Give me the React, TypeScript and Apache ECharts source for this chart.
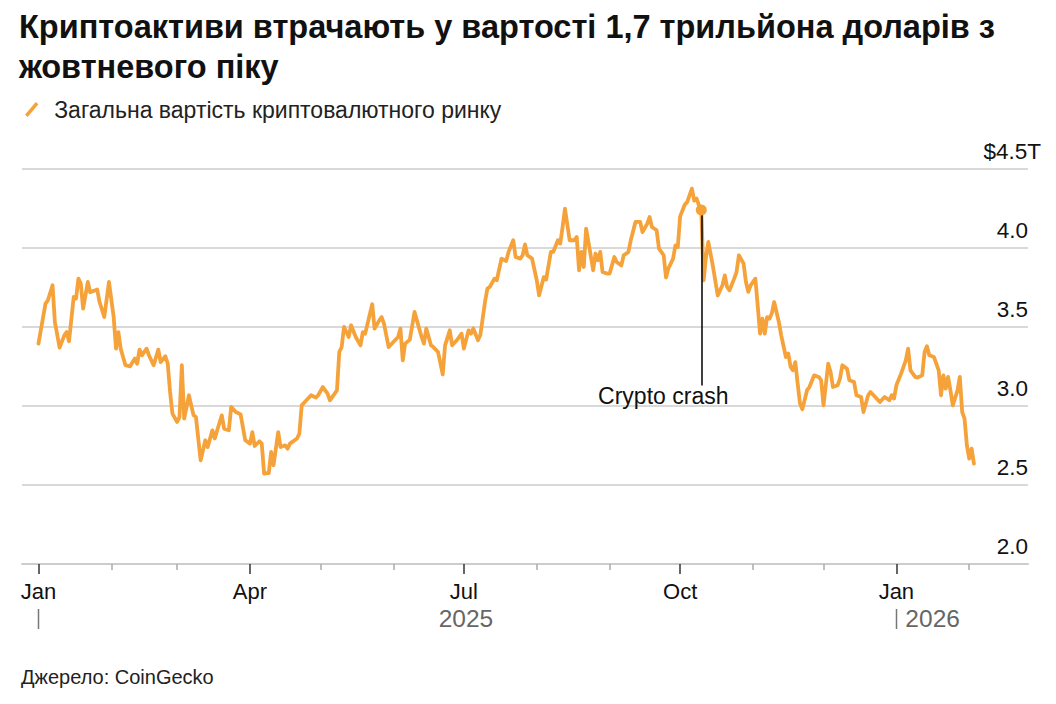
import React, { useEffect, useRef } from "react";
import * as echarts from "echarts";

// ---------- texts ----------
const titleText =
  "Криптоактиви втрачають у вартості 1,7 трильйона доларів з\nжовтневого піку";
const seriesName = "Загальна вартість криптовалютного ринку";
const sourceText = "Джерело: CoinGecko";
const annotationText = "Crypto crash";
const monthLabels = ["Jan", "Feb", "Mar", "Apr", "May", "Jun", "Jul", "Aug", "Sep", "Oct", "Nov", "Dec"];
const yearLabels = ["2025", "2026"];
const yTickValues = [2.0, 2.5, 3.0, 3.5, 4.0, 4.5];

// ---------- data: [days since 2025-01-01, total market cap in $ trillion] ----------
const capQ1_2025 = [
  [0, 3.395], [3, 3.648], [4, 3.669], [6, 3.764], [7, 3.53], [9, 3.37], [11, 3.447], [12, 3.468],
  [13, 3.41], [15, 3.69], [16, 3.68], [17, 3.806], [18, 3.775], [19, 3.616], [21, 3.785], [22, 3.72],
  [25, 3.737], [26, 3.658], [28, 3.563], [30, 3.785], [32, 3.563], [33, 3.363], [34, 3.468], [35, 3.363],
  [37, 3.258], [39, 3.251], [41, 3.3], [42, 3.268], [43, 3.357], [44, 3.321], [46, 3.363], [47, 3.321],
  [49, 3.258], [51, 3.357], [52, 3.278], [54, 3.315], [55, 3.268], [56, 3.089], [57, 2.952], [59, 2.899],
  [60, 2.93], [61, 3.258], [62, 2.92], [64, 3.068], [66, 2.941], [67, 2.93], [69, 2.656], [71, 2.783],
  [72, 2.74], [74, 2.846], [75, 2.794], [78, 2.941], [79, 2.857], [81, 2.846], [82, 2.994], [84, 2.962],
  [86, 2.947], [88, 2.783],
];
const capQ2_2025 = [
  [90, 2.762], [91, 2.835], [92, 2.747], [94, 2.777], [95, 2.762], [96, 2.572], [98, 2.576], [99, 2.709],
  [100, 2.625], [102, 2.835], [103, 2.74], [105, 2.751], [106, 2.73], [107, 2.762], [110, 2.794], [111, 2.825],
  [112, 3.004], [114, 3.036], [116, 3.068], [118, 3.053], [119, 3.068], [121, 3.12], [123, 3.078], [124, 3.036],
  [127, 3.099], [128, 3.342], [129, 3.373], [130, 3.5], [132, 3.437], [133, 3.511], [135, 3.437], [137, 3.384],
  [138, 3.468], [139, 3.458], [142, 3.644], [143, 3.49], [145, 3.542], [146, 3.563], [147, 3.521], [149, 3.373],
  [151, 3.405], [153, 3.437], [154, 3.49], [155, 3.289], [156, 3.395], [158, 3.42], [160, 3.595], [161, 3.542],
  [163, 3.437], [164, 3.395], [165, 3.49], [167, 3.384], [168, 3.373], [170, 3.342], [172, 3.2], [173, 3.384],
  [175, 3.479], [176, 3.384], [178, 3.416], [180, 3.458],
];
const capQ3_2025 = [
  [181, 3.363], [183, 3.479], [184, 3.458], [185, 3.49], [187, 3.416], [188, 3.45], [190, 3.66], [191, 3.743],
  [192, 3.753], [194, 3.806], [195, 3.796], [197, 3.933], [199, 3.918], [200, 3.975], [202, 4.049], [203, 3.943],
  [205, 3.933], [206, 3.954], [207, 4.023], [208, 3.954], [210, 3.933], [212, 3.796], [213, 3.7], [215, 3.816],
  [216, 3.8], [218, 3.975], [219, 3.975], [221, 4.049], [222, 4.028], [223, 4.133], [224, 4.249], [226, 4.049],
  [228, 4.049], [229, 4.07], [230, 3.859], [231, 3.975], [232, 3.88], [233, 4.123], [234, 4.038], [236, 3.859],
  [237, 3.965], [238, 3.922], [239, 3.975], [240, 3.848], [242, 3.838], [243, 3.838], [245, 3.943], [246, 3.911],
  [248, 3.89], [249, 3.954], [251, 3.975], [252, 4.049], [254, 4.165], [256, 4.165], [257, 4.1], [259, 4.154],
  [260, 4.196], [261, 4.133], [263, 4.112], [264, 3.996], [266, 3.954], [267, 3.813], [268, 3.87], [270, 3.933],
  [271, 4.017], [272, 4.006],
];
const capQ4_2025 = [
  [273, 4.2], [275, 4.275], [276, 4.29], [278, 4.376], [279, 4.3], [280, 4.313], [281, 4.27], [282, 4.24],
  [283, 3.796], [284, 3.943], [285, 4.038], [287, 3.88], [289, 3.7], [291, 3.764], [292, 3.827], [293, 3.753],
  [294, 3.732], [296, 3.806], [297, 3.848], [298, 3.954], [300, 3.901], [301, 3.785], [302, 3.722], [303, 3.764],
  [305, 3.806], [306, 3.637], [307, 3.458], [308, 3.553], [309, 3.458], [310, 3.563], [311, 3.553], [312, 3.585],
  [313, 3.658], [315, 3.532], [316, 3.447], [318, 3.31], [319, 3.332], [320, 3.247], [321, 3.226], [322, 3.278],
  [323, 3.142], [324, 3.015], [325, 2.98], [327, 3.1], [328, 3.12], [330, 3.194], [332, 3.184], [333, 3.163],
  [334, 3.004], [336, 3.268], [337, 3.215], [338, 3.12], [340, 3.131], [341, 3.173], [342, 3.258], [344, 3.236],
  [345, 3.163], [347, 3.152], [348, 3.068], [350, 3.057], [351, 2.962], [353, 3.068], [354, 3.089], [356, 3.057],
  [358, 3.025], [360, 3.057], [362, 3.036], [363, 3.068], [364, 3.047],
];
const capQ1_2026 = [
  [365, 3.131], [367, 3.205], [369, 3.289], [370, 3.363], [371, 3.226], [373, 3.184], [374, 3.18], [376, 3.194],
  [377, 3.342], [378, 3.378], [379, 3.321], [381, 3.31], [383, 3.226], [384, 3.068], [385, 3.194], [386, 3.11],
  [387, 3.184], [388, 3.099], [389, 3.004], [391, 3.099], [392, 3.184], [393, 2.962], [394, 2.92], [395, 2.751],
  [396, 2.667], [397, 2.73], [398, 2.635],
];

// annotation: Oct 10, 2025 crash
const crashDay = 282;
const crashValue = 4.24;
const crashLineEndValue = 3.13;

// axis extent (days since 2025-01-01)
const axisStartDay = -7;
const axisEndDay = 421;
const yearMarkDays = [0, 365];
const yearLabelDays = [181, 365];

const FONT = "'Liberation Sans', Arial, Helvetica, sans-serif";
const ORANGE = "#F5A23A";
const DAY_MS = 86400000;
const BASE = Date.UTC(2025, 0, 1);
const ts = (d: number) => BASE + d * DAY_MS;

export default function App() {
  const ref = useRef<HTMLDivElement>(null);

  useEffect(() => {
    if (!ref.current) return;
    const chart = echarts.init(ref.current, null, { renderer: "svg" });

    const allPoints = [...capQ1_2025, ...capQ2_2025, ...capQ3_2025, ...capQ4_2025, ...capQ1_2026];
    const seriesData = allPoints.map(([d, v]) => [ts(d), v]);

    const cats: string[] = [];
    for (let d = axisStartDay; d <= axisEndDay; d++) cats.push(String(d));
    const dateOf = (i: number) => new Date(ts(i + axisStartDay));
    const isMonthStart = (i: number) => dateOf(i).getUTCDate() === 1;
    const isQuarter = (i: number) => isMonthStart(i) && dateOf(i).getUTCMonth() % 3 === 0;

    const option: any = {
      animation: false,
      backgroundColor: "#ffffff",
      title: [
        {
          text: titleText,
          left: 19,
          top: 7,
          padding: 0,
          textStyle: { fontFamily: FONT, fontSize: 32.5, fontWeight: "bold", color: "#111", lineHeight: 40 },
        },
        {
          text: sourceText,
          left: 21,
          top: 667,
          padding: 0,
          textStyle: { fontFamily: FONT, fontSize: 20, fontWeight: "normal", color: "#222" },
        },
      ],
      legend: {
        left: 25,
        top: 98,
        padding: 0,
        itemWidth: 15,
        itemHeight: 15,
        icon: "path://M0,13 L10,1 L12.5,3 L2.5,15 Z",
        data: [{ name: seriesName, itemStyle: { color: ORANGE } }],
        textStyle: { fontFamily: FONT, fontSize: 23, color: "#222", padding: [0, 0, 0, 10] },
        selectedMode: false,
      },
      grid: { left: 22, right: 28, top: 169, bottom: 140 },
      xAxis: [
        { type: "time", min: ts(axisStartDay), max: ts(axisEndDay), show: false },
        {
          type: "category",
          data: cats,
          boundaryGap: false,
          position: "bottom",
          axisLine: { show: true, onZero: false, lineStyle: { color: "#cccccc", width: 2 } },
          axisTick: {
            show: true,
            interval: (i: number) => isQuarter(i),
            length: 10,
            lineStyle: { color: "#333", width: 1.5 },
          },
          axisLabel: {
            show: true,
            interval: (i: number) => isQuarter(i),
            formatter: (_v: string, i: number) => monthLabels[dateOf(i).getUTCMonth()],
            margin: 16,
            fontFamily: FONT,
            fontSize: 22,
            color: "#111",
          },
          splitLine: { show: false },
        },
        {
          type: "category",
          data: cats,
          boundaryGap: false,
          position: "bottom",
          axisLine: { show: false, onZero: false },
          axisTick: {
            show: true,
            interval: (i: number) => isMonthStart(i) && !isQuarter(i),
            length: 6,
            lineStyle: { color: "#aaaaaa", width: 1.5 },
          },
          axisLabel: { show: false },
          splitLine: { show: false },
        },
      ],
      yAxis: {
        type: "value",
        min: yTickValues[0],
        max: yTickValues[yTickValues.length - 1],
        interval: 0.5,
        position: "right",
        axisLine: { show: false },
        axisTick: { show: false },
        splitLine: { show: true, lineStyle: { color: "#cccccc", width: 1.5 } },
        axisLabel: {
          inside: true,
          margin: -13,
          align: "right",
          verticalAlign: "bottom",
          showMinLabel: true,
          showMaxLabel: true,
          formatter: (v: number) =>
            v === yTickValues[yTickValues.length - 1] ? `{t|$${v.toFixed(1)}T}` : `{n|${v.toFixed(1)}}`,
          rich: {
            t: { fontFamily: FONT, fontSize: 22.5, color: "#111", padding: [0, 0, 6, 0] },
            n: { fontFamily: FONT, fontSize: 22.5, color: "#111", padding: [0, 13, 6, 0] },
          },
        },
      },
      series: [
        {
          name: seriesName,
          type: "line",
          xAxisIndex: 0,
          data: seriesData,
          showSymbol: false,
          symbol: "none",
          color: ORANGE,
          lineStyle: { color: ORANGE, width: 3.8, cap: "round", join: "round" },
          z: 3,
          markLine: {
            silent: true,
            symbol: ["none", "none"],
            label: { show: false },
            lineStyle: { color: "#000", width: 1.5, type: "solid" },
            data: [[{ coord: [ts(crashDay), crashValue] }, { coord: [ts(crashDay), crashLineEndValue] }]],
            z: 4,
          },
          markPoint: {
            silent: true,
            data: [
              {
                coord: [ts(crashDay), crashValue],
                symbol: "circle",
                symbolSize: 11,
                itemStyle: { color: ORANGE },
                label: { show: false },
              },
              {
                coord: [ts(crashDay), yTickValues[2]],
                symbol: "circle",
                symbolSize: 1,
                itemStyle: { color: "rgba(0,0,0,0)" },
                label: {
                  show: true,
                  formatter: annotationText,
                  position: "inside",
                  offset: [-38, -10],
                  fontFamily: FONT,
                  fontSize: 23,
                  color: "#111",
                },
              },
            ],
          },
        },
      ],
    };

    chart.setOption(option);

    const px = (d: number) => chart.convertToPixel({ xAxisIndex: 0 }, ts(d)) as number;
    const graphics: any[] = [];
    yearMarkDays.forEach((d) => {
      const x = Math.round(px(d)) + 0.5;
      graphics.push({
        type: "line",
        shape: { x1: x, y1: 609, x2: x, y2: 629 },
        style: { stroke: "#777", lineWidth: 1.5 },
        silent: true,
      });
    });
    graphics.push({
      type: "text",
      x: px(yearLabelDays[0]) + 2,
      y: 618,
      style: {
        text: yearLabels[0],
        fill: "#666",
        font: `24.5px ${FONT}`,
        textAlign: "center",
        textVerticalAlign: "middle",
      },
      silent: true,
    });
    graphics.push({
      type: "text",
      x: px(yearLabelDays[1]) + 9,
      y: 618,
      style: {
        text: yearLabels[1],
        fill: "#666",
        font: `24.5px ${FONT}`,
        textAlign: "left",
        textVerticalAlign: "middle",
      },
      silent: true,
    });
    chart.setOption({ graphic: graphics });

    return () => chart.dispose();
  }, []);

  return (
    <div
      ref={ref}
      style={{ position: "fixed", left: 0, top: 0, width: 1056, height: 704, background: "#fff" }}
    />
  );
}
